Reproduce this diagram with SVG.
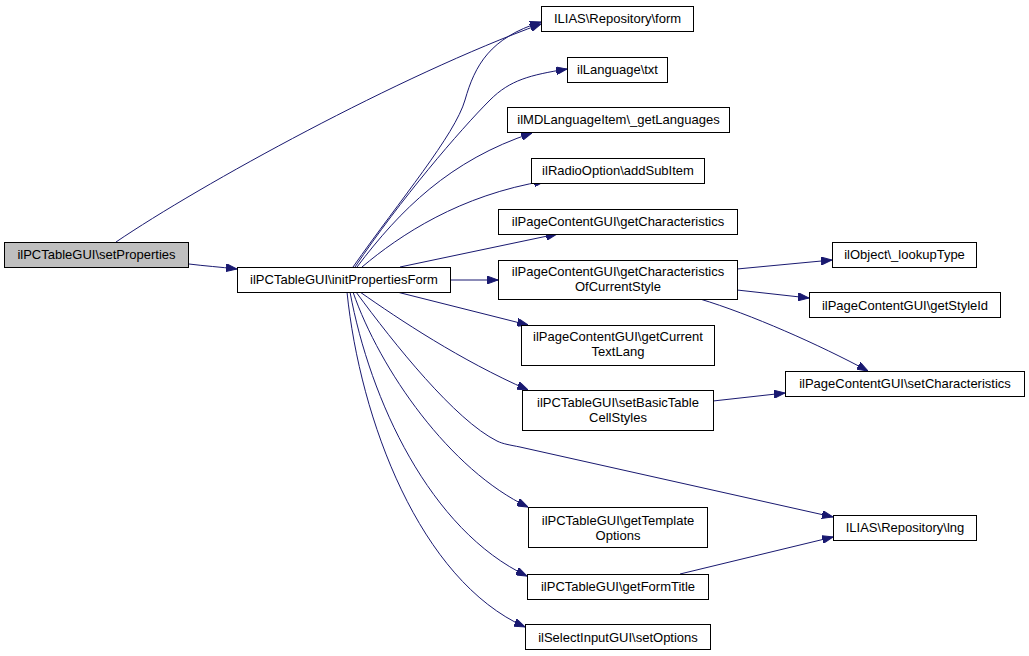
<svg xmlns="http://www.w3.org/2000/svg" width="1029" height="656" viewBox="0 0 1029 656">
<style>
.n rect{fill:#fff;stroke:#000;stroke-width:1}
.n text{font-family:"Liberation Sans",Arial,sans-serif;font-size:13px;text-anchor:middle;fill:#000}
.e path{fill:none;stroke:#191970;stroke-width:1;marker-end:url(#ah)}
</style>
<defs>
<marker id="ah" markerUnits="userSpaceOnUse" markerWidth="11" markerHeight="8" refX="11" refY="4" orient="auto">
<path d="M0,0 L11,4 L0,8 z" fill="#191970" stroke="#191970" stroke-width="1"/>
</marker>
</defs>
<rect width="1029" height="656" fill="#fff"/>
<g id="connectors" class="e">
<path d="M189,264 C205,266 220,267 237,269"/>
<path d="M116,242 C200,185 400,75 541,24"/>
<path d="M353,267 C400,200 455,135 465,100 C475,65 490,38 541,22"/>
<path d="M355,267 C400,200 460,130 490,100 C510,80 530,75 567,69"/>
<path d="M357,267 C400,210 450,160 532,133"/>
<path d="M362,267 C400,235 460,195 545,181"/>
<path d="M400,267 L557,234"/>
<path d="M450,280 L498,280"/>
<path d="M397,292 L528,325"/>
<path d="M360,292 C400,320 460,360 528,390"/>
<path d="M356,292 C395,345 455,420 497,441 C503,444 510,445 520,447 L833,517"/>
<path d="M353,292 C380,370 450,470 528,507"/>
<path d="M350,292 C370,400 430,530 527,576"/>
<path d="M347,292 C360,420 420,580 525,627"/>
<path d="M737,269 L832,260"/>
<path d="M737,290 L809,298"/>
<path d="M700,299 C750,314 820,345 868,371"/>
<path d="M713,401 L785,393"/>
<path d="M680,574 L833,537"/>
</g>
<g id="n_setProperties" class="n"><rect x="4.5" y="242.5" width="184" height="25" style="fill:#bfbfbf"/><text x="96.5" y="259">ilPCTableGUI\setProperties</text></g>
<g id="n_initPropertiesForm" class="n"><rect x="237.5" y="267.5" width="213" height="25"/><text x="344" y="284">ilPCTableGUI\initPropertiesForm</text></g>
<g id="n_form" class="n"><rect x="541.5" y="6.5" width="152" height="25"/><text x="617.5" y="23">ILIAS\Repository\form</text></g>
<g id="n_txt" class="n"><rect x="567.5" y="57.5" width="100" height="25"/><text x="617.5" y="74">ilLanguage\txt</text></g>
<g id="n_getLanguages" class="n"><rect x="507.5" y="107.5" width="222" height="25"/><text x="618.5" y="124">ilMDLanguageItem\_getLanguages</text></g>
<g id="n_addSubItem" class="n"><rect x="531.5" y="158.5" width="173" height="25"/><text x="618" y="175">ilRadioOption\addSubItem</text></g>
<g id="n_getCharacteristics" class="n"><rect x="498.5" y="209.5" width="239" height="25"/><text x="618" y="226">ilPageContentGUI\getCharacteristics</text></g>
<g id="n_getCharOfCurrentStyle" class="n"><rect x="498.5" y="260.5" width="239" height="39"/><text x="618" y="276">ilPageContentGUI\getCharacteristics</text><text x="618" y="291">OfCurrentStyle</text></g>
<g id="n_getCurrentTextLang" class="n"><rect x="521.5" y="325.5" width="193" height="40"/><text x="618" y="341">ilPageContentGUI\getCurrent</text><text x="618" y="356">TextLang</text></g>
<g id="n_setBasicTableCellStyles" class="n"><rect x="522.5" y="390.5" width="191" height="40"/><text x="618" y="407">ilPCTableGUI\setBasicTable</text><text x="618" y="421.5">CellStyles</text></g>
<g id="n_getTemplateOptions" class="n"><rect x="528.5" y="507.5" width="179" height="40"/><text x="618" y="524.5">ilPCTableGUI\getTemplate</text><text x="618" y="539.5">Options</text></g>
<g id="n_getFormTitle" class="n"><rect x="527.5" y="574.5" width="181" height="25"/><text x="618" y="591">ilPCTableGUI\getFormTitle</text></g>
<g id="n_setOptions" class="n"><rect x="525.5" y="624.5" width="185" height="25"/><text x="618" y="641.5">ilSelectInputGUI\setOptions</text></g>
<g id="n_lookupType" class="n"><rect x="832.5" y="242.5" width="144" height="25"/><text x="904.5" y="259">ilObject\_lookupType</text></g>
<g id="n_getStyleId" class="n"><rect x="809.5" y="292.5" width="191" height="25"/><text x="905" y="309.5">ilPageContentGUI\getStyleId</text></g>
<g id="n_setCharacteristics" class="n"><rect x="785.5" y="371.5" width="239" height="25"/><text x="905" y="388">ilPageContentGUI\setCharacteristics</text></g>
<g id="n_lng" class="n"><rect x="833.5" y="515.5" width="143" height="25"/><text x="905" y="532">ILIAS\Repository\lng</text></g>
</svg>
